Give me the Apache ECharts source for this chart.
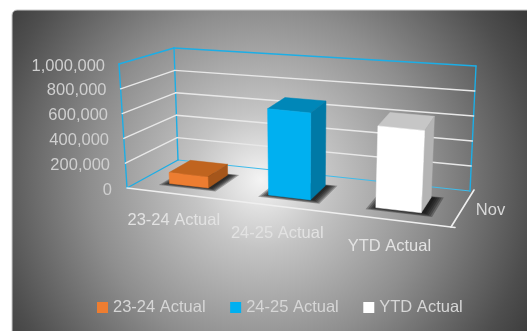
<!DOCTYPE html>
<html><head><meta charset="utf-8">
<style>html,body{margin:0;padding:0;background:#fff}#c{width:527px;height:331px;filter:blur(0.45px)}</style>
<script src="https://cdn.jsdelivr.net/npm/echarts@6/dist/echarts.min.js"></script>
</head><body><div id="c"></div>
<script>
const categories = ['23-24 Actual', '24-25 Actual', 'YTD Actual'];
const values = [90000, 700000, 650000];
const depthCategories = ['Nov'];
const tickValues = [0, 200000, 400000, 600000, 800000, 1000000];
const faceColors = [
  ['#ED7D31', '#C0641F', '#A5561B'],
  ['#00B0F0', '#0087B8', '#0079A6'],
  ['#FFFFFF', '#C6C6C6', '#B4B4B4']
];
const labelShift = [0, 2, 3, 4, 5.5, 7];  // tick label stair-step along the slanted wall, by tick index
const font = '"Liberation Sans", Arial, sans-serif';
const grid = { left: 127, top: 64, width: 324, height: 124 };
// screen corners of the plot box: [depth][height][across]
const box = {
  fb: [[127, 188], [451, 227]], ft: [[119, 64], [458, 99]],
  bb: [[178, 160], [470, 191]], bt: [[174, 48], [476, 66]]
};
const lerp = (a, b, t) => [a[0] + (b[0] - a[0]) * t, a[1] + (b[1] - a[1]) * t];
const warp = u => u / (u + (1 - u) * 1.128);
function project(u, d, v) {
  const w = warp(u);
  const fr = lerp(lerp(box.fb[0], box.fb[1], w), lerp(box.ft[0], box.ft[1], w), v);
  const bk = lerp(lerp(box.bb[0], box.bb[1], w), lerp(box.bt[0], box.bt[1], w), v);
  return lerp(fr, bk, d);
}
const toU = px => (px - grid.left) / grid.width;
const toV = py => (grid.top + grid.height - py) / grid.height;
const poly = (pts, fill, extra) => ({ type: 'polygon', shape: { points: pts }, style: Object.assign({ fill: fill, stroke: fill, lineWidth: 0.5 }, extra || {}) });
const seg = (a, b, color, w) => ({ type: 'line', shape: { x1: a[0], y1: a[1], x2: b[0], y2: b[1] }, style: { stroke: color, lineWidth: w, lineCap: 'round' } });
const txt = (s, p, color) => ({ type: 'text', style: { text: s, x: p[0], y: p[1], fill: color, fontSize: 16.5, fontFamily: font, align: 'center', verticalAlign: 'middle' } });

function renderBar(params, api) {
  const idx = api.value(0), val = api.value(1);
  const c = api.coord([idx, val]);
  const half = api.size([1, 0])[0] * 0.2;
  const u0 = toU(c[0] - half), u1 = toU(c[0] + half), v = toV(c[1]);
  const d0 = 0.28, d1 = 0.72;
  const col = faceColors[idx];
  const P = (u, d, h) => project(u, d, h);
  const children = [];
  for (let k = 4; k >= 0; k--) {
    const eu = k * 0.006, ed = k * 0.02;
    children.push(poly([P(u0 - eu, d0 - ed, 0), P(u1 + 0.012 + eu, d0 - ed, 0), P(u1 + 0.012 + eu, d1 + ed * 0.4, 0), P(u0 - eu, d1 + ed * 0.4, 0)],
      'rgba(10,10,10,0.3)', { stroke: null }));
  }
  children.push(poly([P(u0, d0, v), P(u1, d0, v), P(u1, d1, v), P(u0, d1, v)], col[1]));
  children.push(poly([P(u1, d0, 0), P(u1, d1, 0), P(u1, d1, v), P(u1, d0, v)], col[2]));
  children.push(poly([P(u0, d0, 0), P(u1, d0, 0), P(u1, d0, v), P(u0, d0, v)], col[0]));
  const lp = project(toU(c[0]), 0, 0);
  children.push(txt(categories[idx], [lp[0] - 2, lp[1] + 27], '#E2E2E2'));
  return { type: 'group', children: children };
}

function renderFrame(params, api) {
  const c = api.coord([0, api.value(1)]);
  const v = toV(c[1]);
  const cyan = '#1CAEE6';
  const children = [];
  if (v <= 0.001) {
    children.push(seg(project(0, 0, 0), project(0, 1, 0), cyan, 1.4));
    children.push(seg(project(0, 1, 0), project(1, 1, 0), '#3FBCEB', 1.2));
    children.push(seg(project(0, 1, 0), project(0, 1, 1), cyan, 1.4));
    children.push(seg(project(1, 1, 0), project(1, 1, 1), cyan, 1.4));
    children.push(seg(project(0, 0, 0), project(0, 0, 1), cyan, 1.4));
    children.push(seg(project(0, 0, 0), project(1, 0, 0), '#EFEFEF', 1.6));
    const e = project(1, 1, 0), f = project(1, 0, 0);
    children.push(seg(f, [e[0] + 4, e[1] - 1], '#EFEFEF', 1.6));
    children.push(seg(f, [f[0] + 4, f[1] + 0.5], '#EFEFEF', 1.6));
    const mid = project(1, 0.5, 0);
    children.push(txt(depthCategories[0], [mid[0] + 30, mid[1] + 1], '#D8D8D8'));
  } else if (v >= 0.999) {
    children.push(seg(project(0, 0, 1), project(0, 1, 1), cyan, 1.4));
    children.push(seg(project(0, 1, 1), project(1, 1, 1), cyan, 1.4));
  } else {
    children.push(seg(project(0, 0, v), project(0, 1, v), '#E8E8E8', 1.4));
    children.push(seg(project(0, 1, v), project(1, 1, v), '#E8E8E8', 1.4));
  }
  return { type: 'group', children: children };
}

const richStyles = {};
tickValues.forEach((t, i) => { richStyles['s' + i] = { fontSize: 16.5, fontFamily: font, color: '#CFCFCF', padding: [4, labelShift[i], 0, 0] }; });

const chart = echarts.init(document.getElementById('c'), null, { renderer: 'canvas' });
chart.setOption({
  animation: false,
  grid: Object.assign({ containLabel: false }, grid),
  graphic: [{
    type: 'rect', z: -10, silent: true,
    shape: { x: 12, y: 10, width: 530, height: 340, r: 5 },
    style: {
      stroke: '#C9C9C9', lineWidth: 1,
      fill: { type: 'radial', x: 0.47, y: 0.5, r: 1.0, colorStops: [
        { offset: 0, color: '#F4F4F4' }, { offset: 0.2, color: '#C4C4C4' },
        { offset: 0.5, color: '#8E8E8E' }, { offset: 0.8, color: '#4E4E4E' }, { offset: 1, color: '#2C2C2C' }
      ] }
    }
  }],
  legend: {
    data: categories, left: 92, top: 294, itemWidth: 11, itemHeight: 11, itemGap: 24.5, icon: 'rect', selectedMode: false,
    textStyle: { color: '#D6D6D6', fontSize: 16.5, fontFamily: font }
  },
  xAxis: { type: 'category', data: categories, show: false },
  yAxis: {
    type: 'value', min: 0, max: 1000000, interval: 200000,
    axisLine: { show: false }, axisTick: { show: false }, splitLine: { show: false },
    axisLabel: {
      margin: 15, align: 'right',
      formatter: v => '{s' + tickValues.indexOf(v) + '|' + v.toLocaleString('en-US') + '}',
      rich: richStyles
    }
  },
  series: [
    { type: 'custom', name: 'frame', renderItem: renderFrame, clip: false, silent: true, z: 2,
      data: tickValues.map(t => [0, t]), encode: { x: 0, y: 1 } }
  ].concat(categories.map((name, i) => ({
    type: 'custom', name: name, renderItem: renderBar, clip: false, silent: true, z: 3 + i,
    itemStyle: { color: faceColors[i][0] },
    data: [[i, values[i]]], encode: { x: 0, y: 1 }
  })))
});
</script></body></html>
